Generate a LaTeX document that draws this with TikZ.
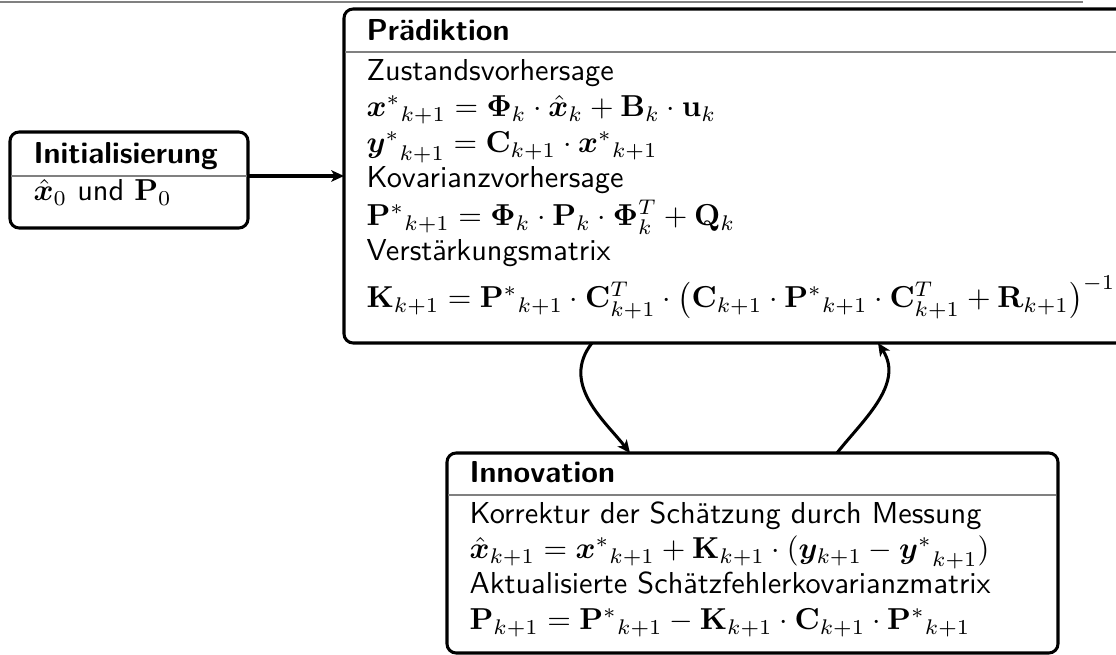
\documentclass[tikz,border=0pt]{standalone}
\usepackage{amsmath,bm}
\usetikzlibrary{calc,arrows.meta,fit}
\begin{document}
\begin{tikzpicture}[x=0.33pt,y=-0.33pt,
  box/.style={draw, line width=1pt, rounded corners=3pt, inner sep=0pt, outer sep=0pt},
  hdr/.style={anchor=base west, inner sep=0pt, font=\sffamily\bfseries},
  txt/.style={anchor=base west, inner sep=0pt, font=\sffamily},
  sepline/.style={draw=gray, line width=0.6pt},
  arr/.style={-{Stealth[length=4.2pt,width=3.8pt,inset=1.1pt]}, line width=1pt}]
\useasboundingbox (0,0) rectangle (1116,655);
\clip (0,0) rectangle (1116,655);

% top rule
\draw[gray, line width=0.6pt] (0,2) -- (1083,2);

% boxes
\node[box, fit={(344,9) (1135,343)}] (pred) {};
\node[box, fit={(10,132) (248,228)}] (init) {};
\node[box, fit={(447,453) (1058,653)}] (innov) {};

% separators
\draw[sepline] (345,52) -- (1135,52);
\draw[sepline] (11,176) -- (247,176);
\draw[sepline] (448,495) -- (1056,495);

% Initialisierung
\node[hdr] (inith) at (33,164) {Initialisierung};
\node[txt] (initt) at (33,201) {$\hat{\bm x}_0$ und $\mathbf{P}_0$};

% Praediktion
\node[hdr] (predh) at (366,41) {Prädiktion};
\node[txt] (p1) at (366,81) {Zustandsvorhersage};
\node[txt] (p2) at (366,117) {${\bm x^*}_{k+1} = \mathbf{\Phi}_k \cdot \hat{\bm x}_k + \mathbf{B}_k \cdot \mathbf{u}_k$};
\node[txt] (p3) at (366,153) {${\bm y^*}_{k+1} = \mathbf{C}_{k+1} \cdot {\bm x^*}_{k+1}$};
\node[txt] (p4) at (366,188) {Kovarianzvorhersage};
\node[txt] (p5) at (366,226) {${\mathbf P^*}_{k+1} = \mathbf{\Phi}_k \cdot \mathbf{P}_k \cdot \mathbf{\Phi}_k^T + \mathbf{Q}_k$};
\node[txt] (p6) at (366,261) {Verstärkungsmatrix};
\node[txt] (p7) at (366,308) {$\mathbf{K}_{k+1} = {\mathbf P^*}_{k+1} \cdot \mathbf{C}_{k+1}^T \cdot \left(\mathbf{C}_{k+1} \cdot {\mathbf P^*}_{k+1} \cdot \mathbf{C}_{k+1}^T + \mathbf{R}_{k+1}\right)^{-1}$};

% Innovation
\node[hdr] (innovh) at (469,483) {Innovation};
\node[txt] (i1) at (469,524) {Korrektur der Schätzung durch Messung};
\node[txt] (i2) at (469,559) {$\hat{\bm x}_{k+1} = {\bm x^*}_{k+1} + \mathbf{K}_{k+1} \cdot (\bm y_{k+1} - {\bm y^*}_{k+1})$};
\node[txt] (i3) at (469,594) {Aktualisierte Schätzfehlerkovarianzmatrix};
\node[txt] (i4) at (469,630) {$\mathbf{P}_{k+1} = {\mathbf P^*}_{k+1} - \mathbf{K}_{k+1} \cdot \mathbf{C}_{k+1} \cdot {\mathbf P^*}_{k+1}$};

% connectors
\draw[arr] ($(init.east)+(0,-4)$) -- ($(pred.west |- init.east)+(0,-4)$);
\draw[arr] ($(pred.south west)+(248,0)$) .. controls +(-32,41) and +(-25,-32) .. ($(innov.north west)+(183,0)$);
\draw[arr] ($(innov.north west)+(390,0)$) .. controls +(25,-32) and +(27,41) .. ($(pred.south west)+(534,0)$);
\end{tikzpicture}
\end{document}
